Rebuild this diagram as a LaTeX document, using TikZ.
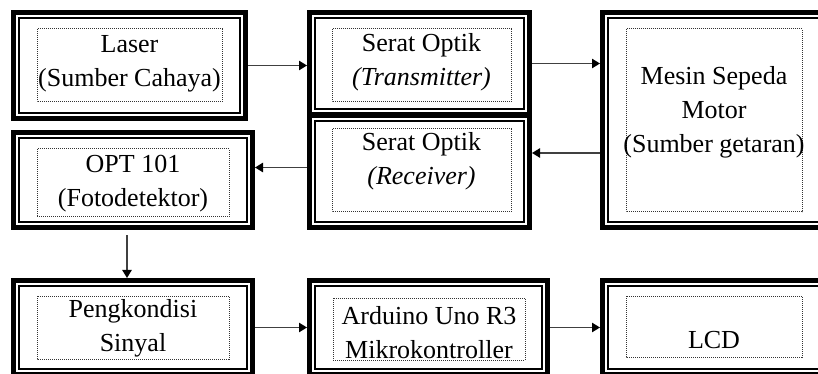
\documentclass[tikz,border=0pt]{standalone}
\usepackage{fontspec}
\setmainfont{Liberation Serif}
\usetikzlibrary{arrows.meta,calc}

\begin{document}
\begin{tikzpicture}[x=0.75pt,y=-0.75pt,>={Triangle[length=6pt,width=7pt,color=black]},
  every node/.style={font=\fontsize{19.5}{25.5}\selectfont,align=center},
  blok/.style 2 args={draw,line width=3.75pt,inner sep=0pt,
    minimum width={(#1-5)*0.75pt},minimum height={(#2-5)*0.75pt}},
  titik/.style={draw=black!80,line width=0.75pt,dash pattern=on 0.75pt off 0.75pt},
  panah/.style={->,line width=1.1pt,draw=black!75}]
  \useasboundingbox (0,0) rectangle (818,374);
  \clip (0,0) rectangle (818,374);
  % outer frames
  \node[blok={237}{111}] (laser) at (129.5,65.5) {};
  \node[blok={225}{107}] (tx) at (419.5,63.5) {};
  \node[blok={225}{117}] (rx) at (419.5,171.5) {};
  \node[blok={228}{220}] (mesin) at (714,120) {};
  \node[blok={244}{100}] (opt) at (133,180) {};
  \node[blok={244}{99}] (kond) at (133,327.5) {};
  \node[blok={243}{99}] (ard) at (428.5,327.5) {};
  \node[blok={228}{99}] (lcd) at (714,327.5) {};
  \foreach \n in {laser,tx,rx,mesin,opt,kond,ard,lcd}
    \draw[line width=1.1pt] ($(\n.north west)+(8,8)$) rectangle ($(\n.south east)-(8,8)$);
  % dotted text frames
  \draw[titik] (37,29) rectangle (222,102);
  \draw[titik] (332,29) rectangle (511,102);
  \draw[titik] (332,129) rectangle (511,212);
  \draw[titik] (626,29) rectangle (802,212);
  \draw[titik] (37,149) rectangle (229,217);
  \draw[titik] (37,296) rectangle (229,359);
  \draw[titik] (333,298) rectangle (525,360);
  \draw[titik] (626,296) rectangle (802,357);
  % labels
  \node (laser-t) at (129.5,64) {Laser\\(Sumber Cahaya)};
  \node (tx-t) at (421.5,62) {Serat Optik\\\textit{(Transmitter)}};
  \node (rx-t) at (421.5,161.5) {Serat Optik\\\textit{(Receiver)}};
  \node (mesin-t) at (714,112.5) {Mesin Sepeda\\Motor\\(Sumber getaran)};
  \node (opt-t) at (133,183.5) {OPT 101\\(Fotodetektor)};
  \node (kond-t) at (133,328.5) {Pengkondisi\\Sinyal};
  \node (ard-t) at (429,332.5) {Arduino Uno R3\\Mikrokontroller};
  \node (lcd-t) at (714,340.5) {LCD};
  % signal path
  \coordinate (mesin-out) at ($(mesin.west)+(0,33)$);
  \coordinate (rx-out) at ($(rx.west)+(0,-4)$);
  \coordinate (opt-out) at ($(opt.south)+(-6,0)$);
  \draw[panah] (laser.east) -- (laser.east -| tx.west);
  \draw[panah] (tx.east) -- (tx.east -| mesin.west);
  \draw[panah] (mesin-out) -- (mesin-out -| rx.east);
  \draw[panah] (rx-out) -- (rx-out -| opt.east);
  \draw[panah,shorten <=4pt] (opt-out) -- (opt-out |- kond.north);
  \draw[panah] (kond.east) -- (ard.west);
  \draw[panah] (ard.east) -- (ard.east -| lcd.west);
\end{tikzpicture}
\end{document}
